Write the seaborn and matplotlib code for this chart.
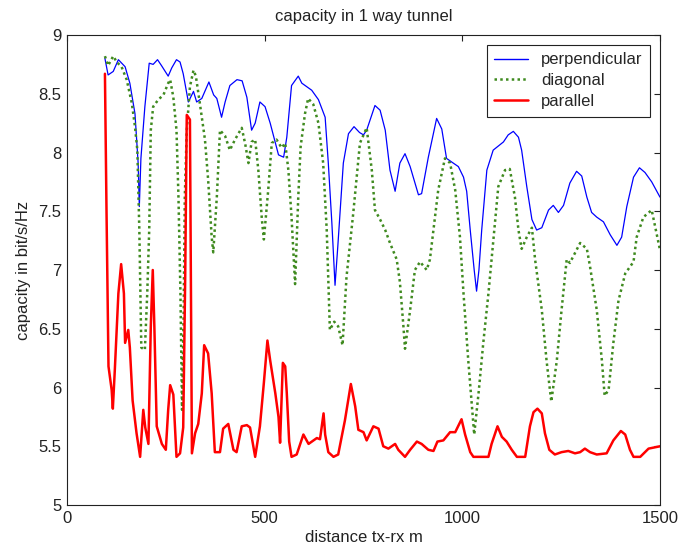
import matplotlib
matplotlib.use("Agg")
import matplotlib.pyplot as plt
import seaborn as sns
import pandas as pd
from matplotlib.lines import Line2D

# ---- data ----
perp_x = [96,104,117,130,147,159,172,180,183,187,197,208,218,229,239,256,265,277,286,294,
          307,320,328,341,359,371,379,391,400,412,430,443,455,467,476,488,501,514,535,548,
          556,568,585,594,619,636,653,661,670,678,685,699,712,726,740,750,758,779,792,805,
          817,830,842,855,868,889,897,914,935,948,960,977,990,1003,1011,1020,1030,1036,1042,1049,
          1062,1078,1104,1116,1129,1142,1150,1163,1176,1188,1201,1218,1230,1243,1256,1272,1289,1302,1315,1327,
          1340,1357,1374,1391,1403,1416,1433,1448,1462,1479,1500]
perp_y = [8.80,8.66,8.69,8.79,8.73,8.59,8.33,7.91,7.54,7.95,8.39,8.76,8.75,8.79,8.74,8.65,8.72,8.79,8.77,8.67,
          8.43,8.52,8.43,8.46,8.60,8.49,8.46,8.30,8.43,8.57,8.62,8.61,8.47,8.19,8.25,8.43,8.39,8.25,7.98,7.96,
          8.13,8.57,8.65,8.59,8.53,8.45,8.30,7.91,7.40,6.87,7.2,7.91,8.16,8.22,8.17,8.15,8.19,8.40,8.36,8.19,
          7.85,7.67,7.91,7.99,7.88,7.64,7.65,7.96,8.29,8.20,7.95,7.91,7.88,7.79,7.67,7.34,7.0,6.82,7.0,7.34,
          7.85,8.02,8.09,8.15,8.18,8.13,8.02,7.71,7.43,7.34,7.36,7.51,7.55,7.49,7.55,7.74,7.84,7.80,7.62,7.49,
          7.45,7.41,7.30,7.21,7.28,7.54,7.79,7.87,7.83,7.75,7.62]

diag_x = [96,104,117,126,138,151,164,172,178,183,188,197,203,208,212,218,231,244,256,261,
          269,277,282,287,291,295,298,303,311,320,326,336,349,357,366,370,379,387,400,412,
          425,442,451,459,467,476,484,493,498,509,518,530,543,552,560,568,577,585,591,602,
          610,623,636,648,657,665,676,686,697,707,724,741,758,771,779,792,805,817,834,842,
          851,855,868,880,893,910,918,939,956,969,982,994,1003,1015,1030,1041,1053,1066,1074,1091,
          1108,1120,1133,1142,1150,1163,1176,1184,1201,1213,1225,1239,1251,1264,1272,1298,1315,1323,1340,1353,
          1360,1370,1382,1395,1412,1433,1441,1458,1479,1500]
diag_y = [8.82,8.74,8.82,8.77,8.73,8.62,8.42,8.22,8.02,7.34,6.34,6.32,6.8,7.34,8.19,8.39,8.45,8.49,8.59,8.62,
          8.47,8.19,7.62,6.8,5.81,6.6,7.62,8.19,8.56,8.70,8.65,8.42,8.11,7.77,7.28,7.15,7.62,8.19,8.14,8.02,
          8.11,8.21,8.07,7.91,8.09,8.11,7.85,7.43,7.26,7.68,8.08,8.11,8.04,8.08,7.85,7.45,6.88,7.62,8.05,8.33,
          8.46,8.41,8.25,7.91,7.34,6.49,6.56,6.52,6.36,6.94,7.48,8.08,8.21,7.85,7.51,7.43,7.34,7.23,7.09,6.90,
          6.52,6.33,6.66,7.0,7.07,7.0,7.09,7.68,7.95,7.91,7.68,7.28,6.80,6.23,5.6,5.95,6.38,6.80,7.09,7.71,
          7.85,7.86,7.62,7.34,7.18,7.28,7.36,7.09,6.66,6.23,5.88,6.23,6.66,7.09,7.06,7.23,7.18,7.03,6.66,6.23,
          5.93,5.98,6.38,6.74,6.97,7.07,7.28,7.45,7.51,7.17]

par_x = [96,100,105,113,116,121,130,137,144,147,155,159,166,176,185,193,198,206,212,217,
         221,227,240,250,256,261,269,277,286,294,299,303,307,311,313,316,324,332,341,347,
         357,366,374,387,395,408,421,429,442,455,463,476,488,498,507,514,527,535,539,546,
         552,556,562,568,581,598,611,632,640,649,653,661,674,686,703,718,729,737,750,758,
         775,788,800,813,830,838,855,868,885,897,914,927,937,952,969,982,998,1007,1020,1028,
         1066,1074,1089,1100,1112,1125,1138,1159,1171,1180,1190,1201,1209,1220,1234,1251,1268,1285,1298,1310,
         1323,1340,1365,1382,1401,1412,1424,1433,1450,1471,1500]
par_y = [8.67,7.5,6.18,5.98,5.82,6.15,6.80,7.05,6.80,6.38,6.49,6.34,5.89,5.61,5.41,5.81,5.66,5.52,6.52,7.0,
         6.52,5.67,5.52,5.47,5.81,6.02,5.94,5.41,5.44,5.66,6.94,8.32,8.30,8.28,7.09,5.44,5.61,5.69,5.95,6.36,
         6.29,5.95,5.45,5.45,5.65,5.69,5.47,5.45,5.67,5.68,5.66,5.41,5.67,6.04,6.40,6.23,5.95,5.75,5.53,6.21,
         6.18,5.95,5.54,5.41,5.43,5.60,5.52,5.57,5.56,5.78,5.60,5.45,5.41,5.43,5.72,6.03,5.84,5.64,5.62,5.55,
         5.67,5.65,5.50,5.48,5.52,5.47,5.41,5.47,5.54,5.52,5.47,5.46,5.54,5.55,5.62,5.62,5.73,5.60,5.45,5.41,
         5.41,5.52,5.67,5.58,5.54,5.47,5.41,5.41,5.67,5.79,5.82,5.78,5.61,5.47,5.43,5.45,5.46,5.44,5.45,5.48,
         5.45,5.43,5.44,5.55,5.63,5.60,5.47,5.41,5.41,5.48,5.50]

series_names = ["perpendicular", "diagonal", "parallel"]
x_ticks = [0, 500, 1000, 1500]
y_ticks = [5, 5.5, 6, 6.5, 7, 7.5, 8, 8.5, 9]
y_tick_labels = ["5", "5.5", "6", "6.5", "7", "7.5", "8", "8.5", "9"]

# ---- style ----
sns.set_style("white")
plt.rcParams["font.family"] = ["Liberation Sans", "DejaVu Sans"]
FS = 12
plt.rcParams["font.size"] = FS

colors = {"perpendicular": "#0000ff", "diagonal": "#3f8a1f", "parallel": "#ff0000"}
dot_style = (0, (1, 1.3))

fig = plt.figure(figsize=(6.8, 5.52), dpi=100)
ax = fig.add_axes([0.0985, 0.0851, 0.8721, 0.8515])

df_p = pd.DataFrame({"x": perp_x, "y": perp_y})
df_d = pd.DataFrame({"x": diag_x, "y": diag_y})
df_r = pd.DataFrame({"x": par_x, "y": par_y})

sns.lineplot(data=df_p, x="x", y="y", ax=ax, color=colors["perpendicular"], lw=0.9,
             estimator=None, sort=False)
sns.lineplot(data=df_d, x="x", y="y", ax=ax, color=colors["diagonal"], lw=1.8,
             estimator=None, sort=False, linestyle=dot_style)
sns.lineplot(data=df_r, x="x", y="y", ax=ax, color=colors["parallel"], lw=1.8,
             estimator=None, sort=False)

ax.set_xlim(0, 1500)
ax.set_ylim(5, 9)
ax.set_xticks(x_ticks)
ax.set_xticklabels([str(t) for t in x_ticks])
ax.set_yticks(y_ticks)
ax.set_yticklabels(y_tick_labels)
ax.tick_params(direction="in", length=4, width=0.8, top=True, right=True,
               labelsize=FS, colors="#222222", pad=4)
for s in ax.spines.values():
    s.set_visible(True)
    s.set_color("#222222")
    s.set_linewidth(0.8)

ax.set_title("capacity in 1 way tunnel", fontsize=FS, pad=10, color="#222222")
ax.set_xlabel("distance tx-rx m", fontsize=FS, labelpad=3, color="#222222")
ax.set_ylabel("capacity in bit/s/Hz", fontsize=FS, labelpad=5, color="#222222")

handles = [
    Line2D([], [], color=colors["perpendicular"], lw=1.0),
    Line2D([], [], color=colors["diagonal"], lw=1.8, linestyle=dot_style),
    Line2D([], [], color=colors["parallel"], lw=1.8),
]
leg = ax.legend(handles, series_names, loc="upper right", fontsize=FS,
                frameon=True, fancybox=False, framealpha=1, edgecolor="#222222",
                borderaxespad=0.6, handlelength=2.0, labelspacing=0.35,
                borderpad=0.45, handletextpad=0.8)
leg.get_frame().set_linewidth(0.8)

fig.savefig("out.png", dpi=100)
